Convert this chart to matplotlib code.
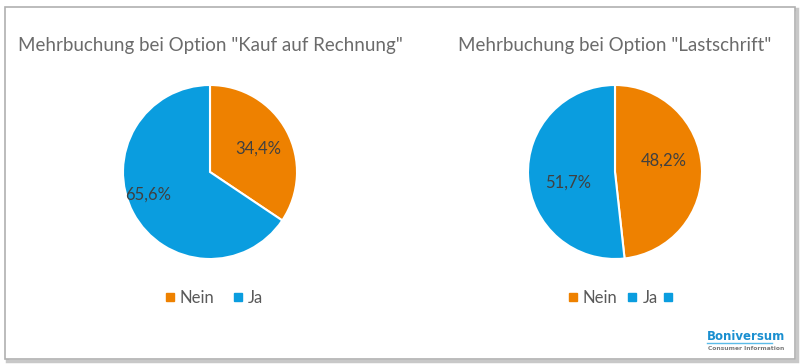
import matplotlib.pyplot as plt
import numpy as np
from matplotlib.patches import Rectangle
from matplotlib.lines import Line2D

plt.rcParams['font.family'] = ['Lato', 'DejaVu Sans']

# data
titles = ['Mehrbuchung bei Option "Kauf auf Rechnung"', 'Mehrbuchung bei Option "Lastschrift"']
categories = ['Nein', 'Ja']
values_rechnung = [34.4, 65.6]
values_lastschrift = [48.2, 51.7]
pct_labels_rechnung = ['34,4%', '65,6%']
pct_labels_lastschrift = ['48,2%', '51,7%']

ORANGE = '#EE8100'
BLUE = '#0A9DDF'
TXT = '#404040'
TITLE = '#6b6b6b'

W, H = 800, 364
fig = plt.figure(figsize=(8, 3.64), dpi=100)

# outer frame with a little shadow
fig.patches.append(Rectangle((7 / W, 3 / H), 790 / W, 352 / H, transform=fig.transFigure,
                             facecolor='none', edgecolor='#c8c8c8', linewidth=2.5, zorder=-3))
fig.patches.append(Rectangle((5 / W, 5 / H), 790 / W, 352 / H, transform=fig.transFigure,
                             facecolor='white', edgecolor='#b0b0b0', linewidth=1.2, zorder=-2))


def square(color):
    return Line2D([], [], marker='s', linestyle='none', markersize=6, color=color)


def draw_pie(cx, cy, r, values, pct_labels, dists, title, leg_x, colsp, extra_x=None):
    ax = fig.add_axes([(cx - r) / W, (H - cy - r) / H, 2 * r / W, 2 * r / H])
    ax.patch.set_visible(False)
    wedges, _ = ax.pie(values, colors=[ORANGE, BLUE], startangle=90, counterclock=False,
                       wedgeprops=dict(edgecolor='white', linewidth=1.5))
    for w, lab, d in zip(wedges, pct_labels, dists):
        ang = np.deg2rad((w.theta1 + w.theta2) / 2 + d[1])
        ax.text(d[0] * np.cos(ang), d[0] * np.sin(ang), lab,
                ha='center', va='center', fontsize=12, color=TXT)
    ax.set_xlim(-1, 1)
    ax.set_ylim(-1, 1)
    ax.set_aspect('equal')
    ax.axis('off')
    fig.text(cx / W, 1 - 45 / H, title, ha='center', va='center', fontsize=13.5, color=TITLE)

    fig.legend([square(ORANGE), square(BLUE)], categories, loc='center',
               bbox_to_anchor=(leg_x / W, 1 - 298 / H), ncol=2,
               frameon=False, fontsize=12, labelcolor='#595959', handletextpad=0.1,
               columnspacing=colsp, handlelength=1.0)
    if extra_x is not None:
        # third, unlabelled legend entry
        fig.legend([square(BLUE)], [''], loc='center', bbox_to_anchor=(extra_x / W, 1 - 298 / H),
                   frameon=False, fontsize=12, handletextpad=0, handlelength=1.0,
                   borderpad=0, borderaxespad=0)


draw_pie(210, 172, 87, values_rechnung, pct_labels_rechnung,
         [(0.62, -2), (0.76, -8)], titles[0], 212, 0.9)
draw_pie(615, 172, 87, values_lastschrift, pct_labels_lastschrift,
         [(0.58, 10), (0.55, 10)], titles[1], 611, 0.4, 668)

# logo
fig.text(707 / W, 1 - 336 / H, 'Boniversum', fontsize=8.5, fontweight='bold', color='#1a8fd0',
         family=['DejaVu Sans'], ha='left', va='center')
fig.add_artist(Line2D([707 / W, 772 / W], [1 - 343 / H, 1 - 343 / H], color='#5bbbe8', linewidth=1))
fig.text(708 / W, 1 - 348 / H, 'Consumer Information', fontsize=4.3, fontweight='bold', color='#7a7a7a',
         family=['DejaVu Sans'], ha='left', va='center')

fig.savefig('out.png', dpi=100)
